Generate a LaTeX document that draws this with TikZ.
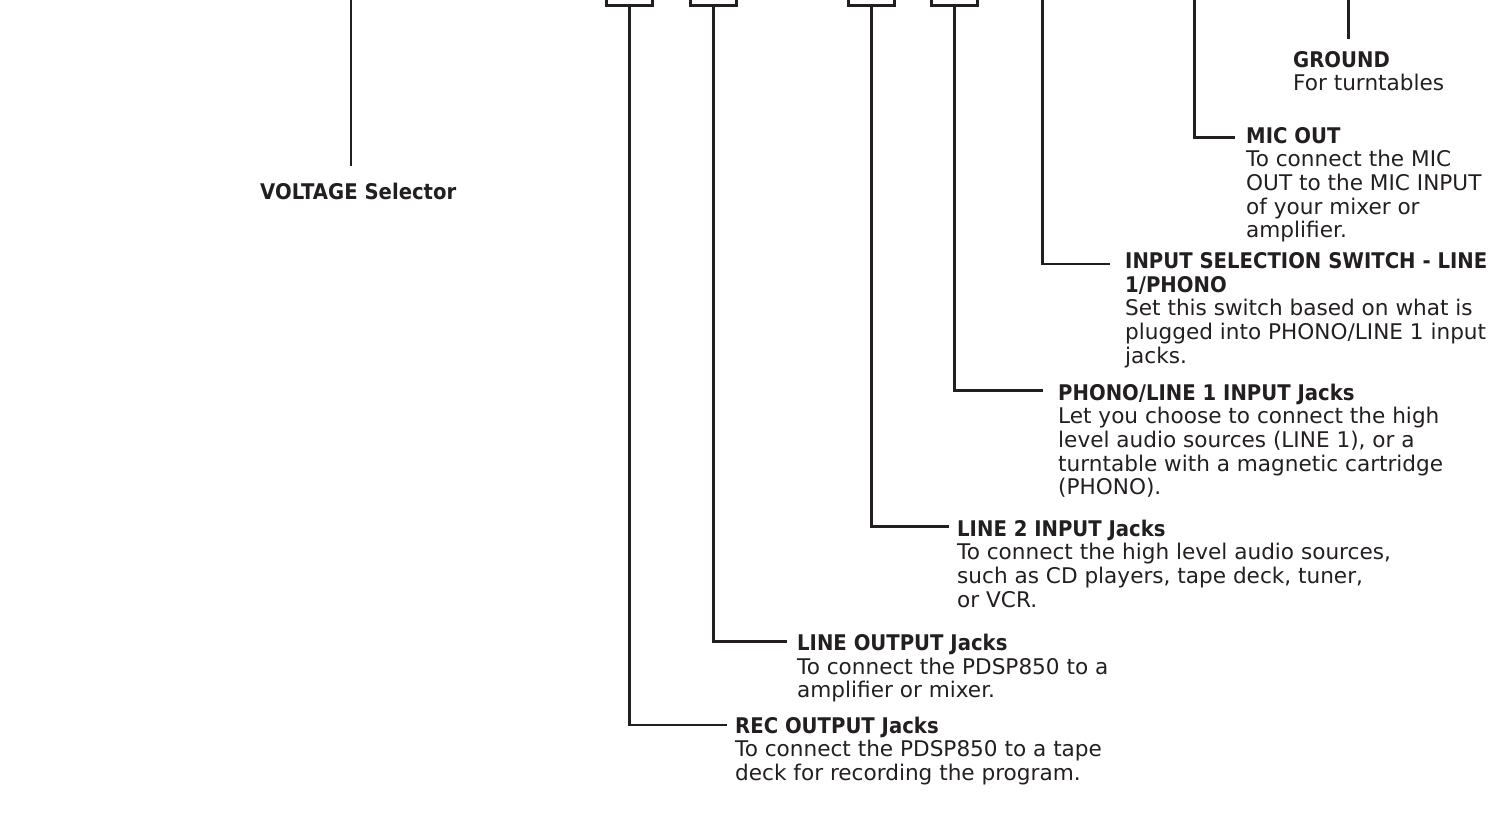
\documentclass[tikz,border=0pt]{standalone}
\usepackage{fontspec}
\setmainfont{DejaVu Sans}[BoldFeatures={FakeStretch=0.91}]
\definecolor{ink}{HTML}{231F20}
\newcommand\blk[1]{\vtop{\baselineskip=23.7pt\lineskiplimit=-100pt\lineskip=0pt #1}}
\newcommand\ttl[1]{\hbox{\bfseries #1}}
\newcommand\txl[1]{\hbox{#1}}
\begin{document}
\begin{tikzpicture}[x=1pt,y=-1pt,
  conn/.style={draw=ink, line width=2.6pt},
  jackbox/.style={draw=ink, line width=2.6pt, minimum width=46pt, minimum height=22pt, anchor=south, inner sep=0pt},
  lbl/.style={anchor=base west, inner sep=0pt, font=\fontsize{21.6}{23.7}\selectfont, text=ink}]
\useasboundingbox (0,0) rectangle (1503,814);

% jack boxes at the top
\node[jackbox] (b1) at (629.3,7) {};
\node[jackbox] (b2) at (713.3,7) {};
\node[jackbox] (b3) at (871.3,7) {};
\node[jackbox] (b4) at (954.3,7) {};

% free tops of leaders leaving the picture
\coordinate (vtop) at (351,-2);
\coordinate (itop) at (1042.7,-2);
\coordinate (mtop) at (1194.7,-2);
\coordinate (gtop) at (1348.3,-2);

% leader ends
\coordinate (vend) at (351,166);
\coordinate (gend) at (1348.3,39);
\coordinate (mend) at (1235,137.3);
\coordinate (iend) at (1110,264);
\coordinate (pend) at (1043,390.5);
\coordinate (l2end) at (949,526.5);
\coordinate (loend) at (787,641.5);
\coordinate (rend) at (727,725);

% labels
\node[lbl] (volt) at (260,199.5) {\blk{\ttl{VOLTAGE Selector}}};
\node[lbl] (gnd) at (1293,67) {\blk{\ttl{GROUND}\txl{For turntables}}};
\node[lbl] (mic) at (1246,143) {\blk{\ttl{MIC OUT}\txl{To connect the MIC}\txl{OUT to the MIC INPUT}\txl{of your mixer or}\txl{amplifier.}}};
\node[lbl] (isel) at (1125,268.5) {\blk{\ttl{INPUT SELECTION SWITCH - LINE}\ttl{1/PHONO}\txl{Set this switch based on what is}\txl{plugged into PHONO/LINE 1 input}\txl{jacks.}}};
\node[lbl] (phono) at (1058,400) {\blk{\ttl{PHONO/LINE 1 INPUT Jacks}\txl{Let you choose to connect the high}\txl{level audio sources (LINE 1), or a}\txl{turntable with a magnetic cartridge}\txl{(PHONO).}}};
\node[lbl] (l2) at (957,536) {\blk{\ttl{LINE 2 INPUT Jacks}\txl{To connect the high level audio sources,}\txl{such as CD players, tape deck, tuner,}\txl{or VCR.}}};
\node[lbl] (lo) at (797,650.5) {\blk{\ttl{LINE OUTPUT Jacks}\txl{To connect the PDSP850 to a}\txl{amplifier or mixer.}}};
\node[lbl] (rec) at (735,733) {\blk{\ttl{REC OUTPUT Jacks}\txl{To connect the PDSP850 to a tape}\txl{deck for recording the program.}}};

% connectors
\draw[conn] (vtop) -- (vend);
\draw[conn] (gtop) -- (gend);
\draw[conn] (mtop) |- (mend);
\draw[conn] (itop) |- (iend);
\draw[conn] (b4.south) |- (pend);
\draw[conn] (b3.south) |- (l2end);
\draw[conn] (b2.south) |- (loend);
\draw[conn] (b1.south) |- (rend);
\end{tikzpicture}
\end{document}
